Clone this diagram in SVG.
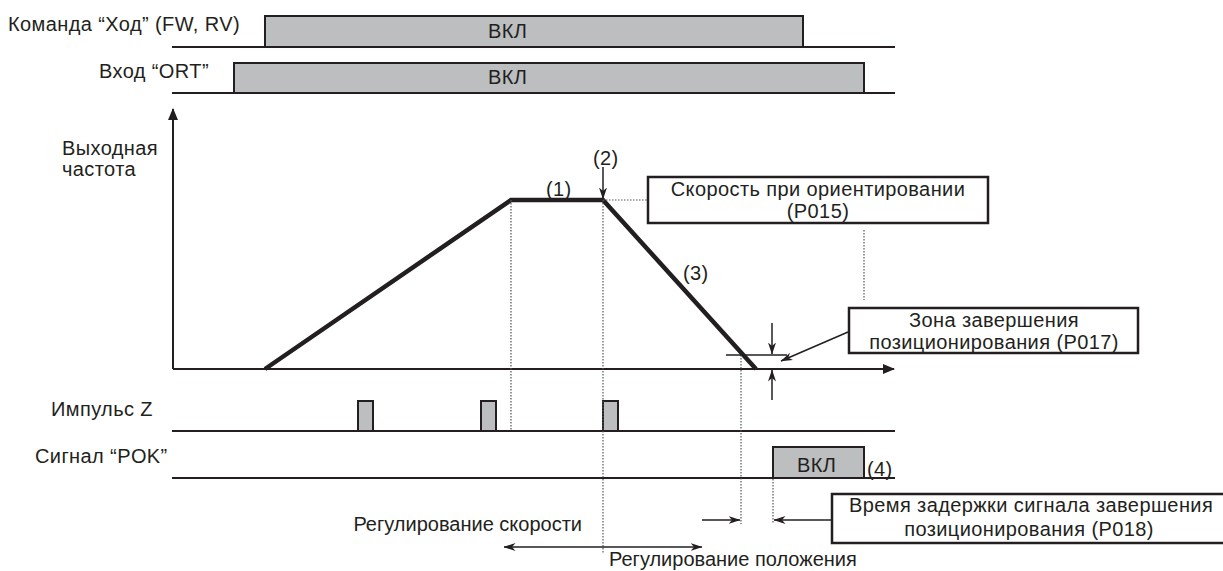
<svg xmlns="http://www.w3.org/2000/svg" width="1223" height="571" viewBox="0 0 1223 571">
  <defs>
    <style>
      .t { font-family: "Liberation Sans", Arial, sans-serif; font-size: 20px; letter-spacing: 0.4px; fill: #231f20; }
      .s { letter-spacing: 0; }
      .c { text-anchor: middle; }
      .e { text-anchor: end; }
      .sig { stroke: #231f20; stroke-width: 2; fill: none; }
      .pulse { fill: #bcbec0; stroke: #231f20; stroke-width: 2; }
      .box { fill: #ffffff; stroke: #231f20; stroke-width: 2.5; }
      .ramp { stroke: #231f20; stroke-width: 4.5; fill: none; stroke-linejoin: miter; }
      .axis { stroke: #231f20; stroke-width: 2; fill: none; }
      .dot { stroke: #555; stroke-width: 1.2; stroke-dasharray: 1.5 1.5; fill: none; }
      .thin { stroke: #231f20; stroke-width: 1.5; fill: none; }
    </style>
    <marker id="tri" viewBox="0 0 12 10" refX="11" refY="5" markerWidth="12" markerHeight="10" markerUnits="userSpaceOnUse" orient="auto">
      <path d="M0,0 L12,5 L0,10 z" fill="#231f20"/>
    </marker>
    <marker id="head" viewBox="0 0 12 10" refX="11.5" refY="5" markerWidth="12" markerHeight="10" markerUnits="userSpaceOnUse" orient="auto-start-reverse">
      <path d="M0,1 L12,5 L0,9 L3.5,5 z" fill="#231f20"/>
    </marker>
  </defs>

  <!-- Run command FW/RV -->
  <g id="run-cmd">
    <text class="t" x="8" y="31">Команда “Ход” (FW, RV)</text>
    <path class="sig" d="M172,47 H265 M803,47 H895"/>
    <rect class="pulse" x="265" y="16" width="538" height="31"/>
    <text class="t" x="488" y="38">ВКЛ</text>
  </g>

  <!-- ORT input -->
  <g id="ort-input">
    <text class="t" x="99" y="78">Вход “ORT”</text>
    <path class="sig" d="M172,93 H234 M864,93 H895"/>
    <rect class="pulse" x="234" y="63" width="630" height="30"/>
    <text class="t" x="488" y="84">ВКЛ</text>
  </g>

  <!-- Output frequency chart -->
  <g id="freq-chart">
    <text class="t" x="62" y="155">Выходная</text>
    <text class="t" x="62" y="176">частота</text>
    <line class="axis" x1="173" y1="369" x2="173" y2="109" marker-end="url(#tri)"/>
    <line class="axis" x1="173" y1="369" x2="894" y2="369" marker-end="url(#tri)"/>
    <polyline class="ramp" points="265,369 511,200 603,200 756,369"/>
    <text class="t" x="546" y="196">(1)</text>
    <text class="t" x="593" y="165">(2)</text>
    <text class="t" x="683" y="280">(3)</text>
  </g>

  <!-- Orientation speed box -->
  <g id="p015">
    <rect class="box" x="648" y="177" width="340" height="46"/>
    <text class="t c" x="818" y="196">Скорость при ориентировании</text>
    <text class="t c" x="818" y="218">(P015)</text>
  </g>

  <!-- Positioning completion zone box -->
  <g id="p017">
    <rect class="box" x="849" y="308" width="289" height="45"/>
    <text class="t c" x="994" y="327">Зона завершения</text>
    <text class="t c" x="994" y="349">позиционирования (P017)</text>
  </g>

  <!-- Z pulse -->
  <g id="z-pulse">
    <text class="t" x="51" y="416">Импульс Z</text>
    <path class="sig" d="M172,431 H895"/>
    <rect class="pulse" x="358" y="401" width="15" height="30"/>
    <rect class="pulse" x="481" y="401" width="15" height="30"/>
    <rect class="pulse" x="603" y="401" width="15" height="30"/>
  </g>

  <!-- POK signal -->
  <g id="pok-signal">
    <text class="t" x="35" y="463">Сигнал “POK”</text>
    <path class="sig" d="M172,478 H773 M864,478 H895"/>
    <rect class="pulse" x="773" y="447" width="91" height="31"/>
    <text class="t" x="797" y="472">ВКЛ</text>
    <text class="t" x="867" y="476">(4)</text>
  </g>

  <!-- Completion delay box -->
  <g id="p018">
    <rect class="box" x="832" y="494" width="400" height="49"/>
    <text class="t" x="849" y="512">Время задержки сигнала завершения</text>
    <text class="t c" x="1029" y="536">позиционирования (P018)</text>
  </g>

  <!-- Control region labels -->
  <g id="control-labels">
    <text class="t s e" x="582" y="531">Регулирование скорости</text>
    <text class="t s" x="609" y="566">Регулирование положения</text>
  </g>

  <!-- Connectors, guides and dimension arrows -->
  <g id="connectors">
    <path class="dot" d="M511,200 V430"/>
    <path class="dot" d="M603,200 V554"/>
    <path class="dot" d="M603,200 H648"/>
    <path class="dot" d="M864,230 V300"/>
    <path class="dot" d="M741,355 V524"/>
    <path class="dot" d="M773,479 V524"/>
    <line class="thin" x1="603" y1="167" x2="603" y2="199" marker-end="url(#head)"/>
    <line class="thin" x1="726" y1="355" x2="787" y2="355" stroke="#555"/>
    <line class="thin" x1="772" y1="323" x2="772" y2="354" marker-end="url(#head)"/>
    <line class="thin" x1="772" y1="400" x2="772" y2="370" marker-end="url(#head)"/>
    <line class="thin" x1="848" y1="332" x2="781" y2="361" marker-end="url(#head)"/>
    <line class="thin" x1="702" y1="520" x2="740" y2="520" marker-end="url(#head)"/>
    <line class="thin" x1="832" y1="520" x2="774" y2="520" marker-end="url(#head)"/>
    <line class="thin" x1="504" y1="547" x2="702" y2="547" marker-start="url(#head)" marker-end="url(#head)"/>
  </g>
</svg>
